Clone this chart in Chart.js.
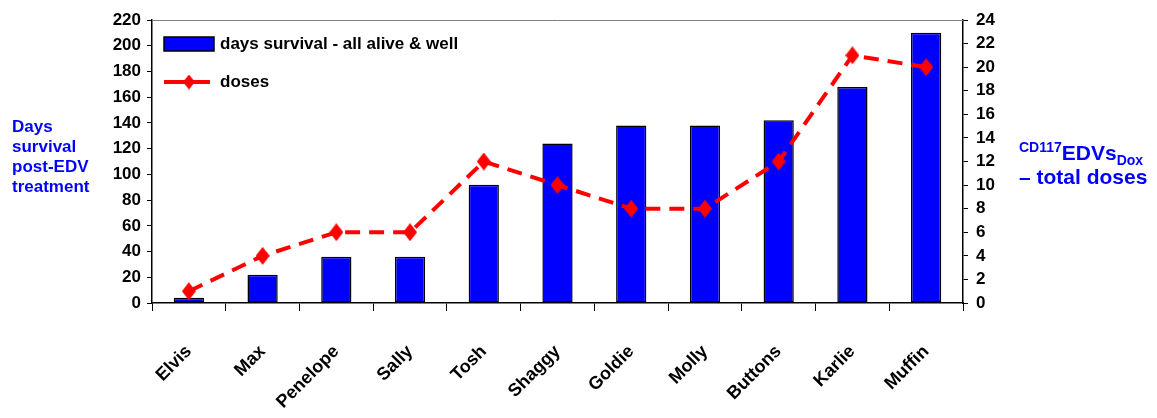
<!DOCTYPE html>
<html>
<head>
<meta charset="utf-8">
<script src="https://cdn.jsdelivr.net/npm/chart.js@4.4.1/dist/chart.umd.min.js"></script>
<style>
  html, body { margin: 0; padding: 0; background: #fff; }
  #wrap { position: relative; width: 1157px; height: 418px; }
  .axis-title {
    position: absolute;
    color: #0000ff;
    font-family: "Liberation Sans", Arial, sans-serif;
    font-weight: bold;
    white-space: nowrap;
  }
  #leftTitle { left: 12px; top: 117px; font-size: 17px; line-height: 20px; }
  #rightTitle { left: 1019px; top: 141px; font-size: 21px; line-height: 24px; }
  #rightTitle sup, #rightTitle sub { font-size: 14px; line-height: 0; }
</style>
</head>
<body>
<div id="wrap">
  <canvas id="chart" width="1157" height="418"></canvas>
  <div class="axis-title" id="leftTitle">Days<br>survival<br>post-EDV<br>treatment</div>
  <div class="axis-title" id="rightTitle"><sup>CD117</sup>EDVs<sub>Dox</sub><br>– total doses</div>
</div>
<script>
const names = ["Elvis", "Max", "Penelope", "Sally", "Tosh", "Shaggy", "Goldie", "Molly", "Buttons", "Karlie", "Muffin"]
const survivalDays = [4, 22, 36, 36, 92, 124, 138, 138, 142, 168, 210]
const doses = [1, 4, 6, 6, 12, 10, 8, 8, 12, 21, 20]
const daysTicks = [0, 20, 40, 60, 80, 100, 120, 140, 160, 180, 200, 220]
const doseTicks = [0, 2, 4, 6, 8, 10, 12, 14, 16, 18, 20, 22, 24]

const sansFont = '"Liberation Sans", Arial, sans-serif'
const RED = "#ff0000"
const BLUE = "#0000ff"
const DASH = [15, 9]

// diamond marker, a bit taller than wide
function makeDiamond(w, h) {
  const c = document.createElement("canvas")
  c.width = w
  c.height = h
  const g = c.getContext("2d")
  g.fillStyle = RED
  g.beginPath()
  g.moveTo(w / 2, 0)
  g.lineTo(w, h / 2)
  g.lineTo(w / 2, h)
  g.lineTo(0, h / 2)
  g.closePath()
  g.fill()
  return c
}
const diamond = makeDiamond(14, 18)
const smallDiamond = makeDiamond(12, 15)

// legend inside plot + grey top border of the plot area
const plotExtras = {
  id: "plotExtras",
  afterDraw(chart) {
    const { ctx, chartArea } = chart
    ctx.save()
    ctx.strokeStyle = "#808080"
    ctx.lineWidth = 1
    ctx.beginPath()
    ctx.moveTo(chartArea.left, chartArea.top + 0.5)
    ctx.lineTo(chartArea.right, chartArea.top + 0.5)
    ctx.stroke()

    const x0 = chartArea.left + 12
    // bar item
    ctx.fillStyle = BLUE
    ctx.fillRect(x0, chartArea.top + 17, 50, 14)
    ctx.strokeStyle = "#000"
    ctx.lineWidth = 1.5
    ctx.strokeRect(x0, chartArea.top + 17, 50, 14)

    // line item
    const ly = chartArea.top + 62
    ctx.strokeStyle = RED
    ctx.lineWidth = 4
    ctx.beginPath()
    ctx.moveTo(x0, ly)
    ctx.lineTo(x0 + 46, ly)
    ctx.stroke()
    ctx.drawImage(smallDiamond, x0 + 25 - 6, ly - 7.5)

    ctx.fillStyle = "#000"
    ctx.font = "bold 17px " + sansFont
    ctx.textBaseline = "middle"
    ctx.fillText("days survival - all alive & well", x0 + 56, chartArea.top + 24)
    ctx.fillText("doses", x0 + 56, ly)
    ctx.restore()
  },
}

new Chart(document.getElementById("chart"), {
  data: {
    labels: names,
    datasets: [
      {
        type: "line",
        label: "doses",
        data: doses,
        yAxisID: "y1",
        borderColor: RED,
        borderWidth: 4,
        borderDash: DASH,
        pointStyle: diamond,
        pointRadius: 9,
        fill: false,
        tension: 0,
        order: 0,
      },
      {
        type: "bar",
        label: "days survival - all alive & well",
        data: survivalDays,
        yAxisID: "y",
        backgroundColor: BLUE,
        borderColor: "#000",
        borderWidth: 1.5,
        borderSkipped: false,
        categoryPercentage: 1,
        barPercentage: 0.41,
        order: 1,
      },
    ],
  },
  options: {
    responsive: false,
    animation: false,
    layout: { padding: { left: 92, right: 154, top: 20, bottom: 0 } },
    plugins: {
      legend: { display: false },
      tooltip: { enabled: false },
    },
    scales: {
      x: {
        offset: true,
        afterFit: (scale) => { scale.height = 115 },
        border: { color: "#000", width: 1.5 },
        grid: { offset: true, drawOnChartArea: false, drawTicks: true, tickLength: 8, color: "#000" },
        ticks: {
          maxRotation: 45,
          minRotation: 45,
          autoSkip: false,
          labelOffset: 0,
          padding: 30,
          color: "#000",
          font: { family: sansFont, size: 18, weight: "bold" },
        },
      },
      y: {
        position: "left",
        min: 0,
        max: 220,
        afterFit: (scale) => { scale.width = 60 },
        afterBuildTicks: (scale) => { scale.ticks = daysTicks.map((v) => ({ value: v })) },
        border: { color: "#000", width: 1.5 },
        grid: { drawOnChartArea: false, tickLength: 5, color: "#000" },
        ticks: { autoSkip: false, color: "#000", padding: 6, font: { family: sansFont, size: 17, weight: "bold" } },
      },
      y1: {
        position: "right",
        min: 0,
        max: 24,
        afterFit: (scale) => { scale.width = 40 },
        afterBuildTicks: (scale) => { scale.ticks = doseTicks.map((v) => ({ value: v })) },
        border: { color: "#000", width: 1.5 },
        grid: { drawOnChartArea: false, tickLength: 5, color: "#000" },
        ticks: { autoSkip: false, color: "#000", padding: 8, font: { family: sansFont, size: 17, weight: "bold" } },
      },
    },
  },
  plugins: [plotExtras],
})
</script>
</body>
</html>
